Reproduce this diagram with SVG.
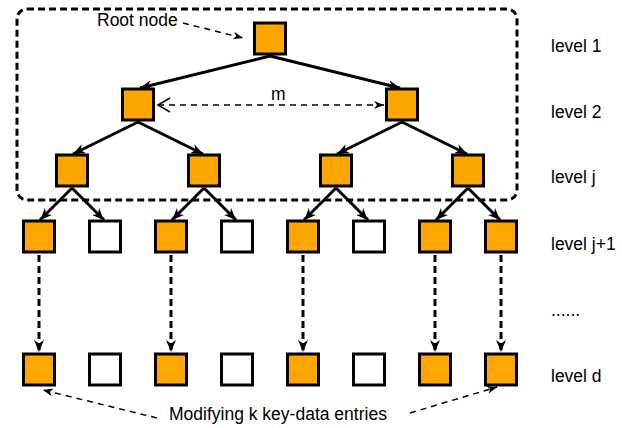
<svg xmlns="http://www.w3.org/2000/svg" width="622" height="428" viewBox="0 0 622 428">
  <defs>
    <style>
      .node { stroke: #000; stroke-width: 3; }
      .on { fill: #ffa500; }
      .off { fill: #fff; }
      .edge { fill: none; stroke: #000; stroke-width: 3; }
      .jump { fill: none; stroke: #000; stroke-width: 3; stroke-dasharray: 7 4; }
      .note { fill: none; stroke: #000; stroke-width: 1.5; stroke-dasharray: 6 5; }
      .frame { fill: none; stroke: #000; stroke-width: 3; stroke-dasharray: 7 4; }
      text { font-family: "Liberation Sans", Arial, sans-serif; font-size: 17.5px; fill: #000; }
    </style>
    <marker id="arrowBig" viewBox="0 0 12 10" refX="12" refY="5" markerWidth="12" markerHeight="10" markerUnits="userSpaceOnUse" orient="auto">
      <path d="M0,0 L12,5 L0,10 L3.5,5 Z" fill="#000"/>
    </marker>
    <marker id="arrowSmall" viewBox="0 0 10 8" refX="10" refY="4" markerWidth="10" markerHeight="8" markerUnits="userSpaceOnUse" orient="auto">
      <path d="M0,0 L10,4 L0,8 L3,4 Z" fill="#000"/>
    </marker>
    <marker id="arrowOpen" viewBox="0 0 14 16" refX="1" refY="8" markerWidth="14" markerHeight="16" markerUnits="userSpaceOnUse" orient="auto-start-reverse">
      <path d="M13,1 L1,8 L13,15" fill="none" stroke="#000" stroke-width="1.5"/>
    </marker>
  </defs>

  <!-- top part of the tree, levels 1 to j -->
  <rect class="frame" x="17" y="9" width="500" height="191" rx="10" ry="10"/>

  <g id="connectors">
    <!-- level 1 to level 2 -->
    <line class="edge" x1="270" y1="56" x2="140" y2="88" marker-end="url(#arrowBig)"/>
    <line class="edge" x1="270" y1="56" x2="400" y2="88" marker-end="url(#arrowBig)"/>
    <!-- level 2 to level j -->
    <line class="edge" x1="138" y1="122" x2="73" y2="154" marker-end="url(#arrowBig)"/>
    <line class="edge" x1="138" y1="122" x2="203" y2="154" marker-end="url(#arrowBig)"/>
    <line class="edge" x1="402" y1="122" x2="337" y2="154" marker-end="url(#arrowBig)"/>
    <line class="edge" x1="402" y1="122" x2="467" y2="154" marker-end="url(#arrowBig)"/>
    <!-- level j to level j+1 -->
    <line class="edge" x1="72" y1="188" x2="40" y2="220" marker-end="url(#arrowBig)"/>
    <line class="edge" x1="72" y1="188" x2="104" y2="220" marker-end="url(#arrowBig)"/>
    <line class="edge" x1="204" y1="188" x2="172" y2="220" marker-end="url(#arrowBig)"/>
    <line class="edge" x1="204" y1="188" x2="236" y2="220" marker-end="url(#arrowBig)"/>
    <line class="edge" x1="336" y1="188" x2="304" y2="220" marker-end="url(#arrowBig)"/>
    <line class="edge" x1="336" y1="188" x2="368" y2="220" marker-end="url(#arrowBig)"/>
    <line class="edge" x1="468" y1="188" x2="436" y2="220" marker-end="url(#arrowBig)"/>
    <line class="edge" x1="468" y1="188" x2="500" y2="220" marker-end="url(#arrowBig)"/>
    <!-- level j+1 down to level d -->
    <line class="jump" x1="39" y1="255" x2="39" y2="352" marker-end="url(#arrowBig)"/>
    <line class="jump" x1="171" y1="255" x2="171" y2="352" marker-end="url(#arrowBig)"/>
    <line class="jump" x1="303" y1="255" x2="303" y2="352" marker-end="url(#arrowBig)"/>
    <line class="jump" x1="435" y1="255" x2="435" y2="352" marker-end="url(#arrowBig)"/>
    <line class="jump" x1="501" y1="255" x2="501" y2="352" marker-end="url(#arrowBig)"/>
    <!-- annotations -->
    <line class="note" x1="183" y1="23" x2="243" y2="38" marker-end="url(#arrowSmall)"/>
    <line class="note" x1="158" y1="105" x2="384" y2="105" marker-end="url(#arrowSmall)"/>
    <path d="M170,98 L158,105 L170,112" fill="none" stroke="#000" stroke-width="1.5"/>
    <line class="note" x1="157" y1="418" x2="43" y2="390" marker-end="url(#arrowSmall)"/>
    <line class="note" x1="410" y1="413" x2="497" y2="387" marker-end="url(#arrowSmall)"/>
  </g>

  <!-- level 1 -->
  <g id="root"><rect class="node on" x="254.5" y="23" width="31" height="31"/></g>
  <!-- level 2 -->
  <g id="n2a"><rect class="node on" x="122.5" y="89" width="31" height="31"/></g>
  <g id="n2b"><rect class="node on" x="386.5" y="89" width="31" height="31"/></g>
  <!-- level j -->
  <g id="nja"><rect class="node on" x="56.5" y="155" width="31" height="31"/></g>
  <g id="njb"><rect class="node on" x="188.5" y="155" width="31" height="31"/></g>
  <g id="njc"><rect class="node on" x="320.5" y="155" width="31" height="31"/></g>
  <g id="njd"><rect class="node on" x="452.5" y="155" width="31" height="31"/></g>
  <!-- level j+1 -->
  <g id="nk1"><rect class="node on" x="23.5" y="221" width="31" height="31"/></g>
  <g id="nk2"><rect class="node off" x="89.5" y="221" width="31" height="31"/></g>
  <g id="nk3"><rect class="node on" x="155.5" y="221" width="31" height="31"/></g>
  <g id="nk4"><rect class="node off" x="221.5" y="221" width="31" height="31"/></g>
  <g id="nk5"><rect class="node on" x="287.5" y="221" width="31" height="31"/></g>
  <g id="nk6"><rect class="node off" x="353.5" y="221" width="31" height="31"/></g>
  <g id="nk7"><rect class="node on" x="419.5" y="221" width="31" height="31"/></g>
  <g id="nk8"><rect class="node on" x="485.5" y="221" width="31" height="31"/></g>
  <!-- level d -->
  <g id="nd1"><rect class="node on" x="23.5" y="354" width="31" height="31"/></g>
  <g id="nd2"><rect class="node off" x="89.5" y="354" width="31" height="31"/></g>
  <g id="nd3"><rect class="node on" x="155.5" y="354" width="31" height="31"/></g>
  <g id="nd4"><rect class="node off" x="221.5" y="354" width="31" height="31"/></g>
  <g id="nd5"><rect class="node on" x="287.5" y="354" width="31" height="31"/></g>
  <g id="nd6"><rect class="node off" x="353.5" y="354" width="31" height="31"/></g>
  <g id="nd7"><rect class="node on" x="419.5" y="354" width="31" height="31"/></g>
  <g id="nd8"><rect class="node on" x="485.5" y="354" width="31" height="31"/></g>

  <!-- labels -->
  <text x="97" y="26">Root node</text>
  <text x="271" y="100">m</text>
  <text x="169" y="420">Modifying k key-data entries</text>
  <text x="551" y="52">level 1</text>
  <text x="551" y="118">level 2</text>
  <text x="551" y="183">level j</text>
  <text x="551" y="250">level j+1</text>
  <text x="551" y="316">......</text>
  <text x="551" y="382">level d</text>
</svg>
